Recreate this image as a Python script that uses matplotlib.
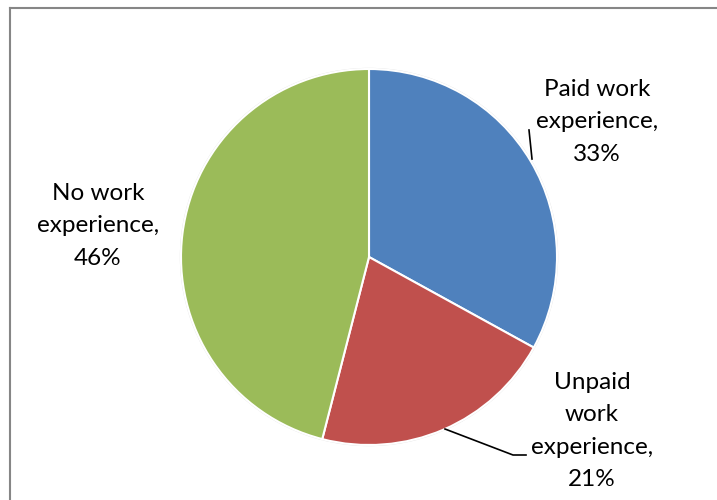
#------------------------------------------------------------------------------------------------------------------
#   Work experience pie chart
#------------------------------------------------------------------------------------------------------------------

import matplotlib
matplotlib.use('Agg')
import matplotlib.pyplot as plt
from matplotlib.patches import Circle
from matplotlib.lines import Line2D

#------------------------------------------------------------------------------------------------------------------
#   Data
#------------------------------------------------------------------------------------------------------------------
categories = ['Paid work\nexperience,', 'Unpaid\nwork\nexperience,', 'No work\nexperience,']
shares = [33, 21, 46]
colors = ['#4F81BD', '#C0504D', '#9BBB59']

#------------------------------------------------------------------------------------------------------------------
#   Figure (axes in pixel units, y up)
#------------------------------------------------------------------------------------------------------------------
W, H = 717, 500
fig = plt.figure(figsize=(W / 100, H / 100), dpi=100)
ax = fig.add_axes([0, 0, 1, 1])

cx, cy, r = 369, H - 257, 188

# faint shadow ring
ax.add_patch(Circle((cx, cy), r + 1.2, facecolor='#e2e2e2', edgecolor='none', zorder=0))

ax.pie(shares, colors=colors, startangle=90, counterclock=False, center=(cx, cy), radius=r,
       wedgeprops=dict(edgecolor='white', linewidth=1.5), frame=True)
ax.set_xlim(0, W)
ax.set_ylim(0, H)
ax.set_aspect('equal')
ax.axis('off')

#------------------------------------------------------------------------------------------------------------------
#   Labels
#------------------------------------------------------------------------------------------------------------------
font = dict(family=['Lato', 'DejaVu Sans'], fontsize=17.5, color='black', ha='center', va='center',
            linespacing=1.66)
label_pos = [(597, 122), (592, 431), (98, 226)]
for name, val, (x, y) in zip(categories, shares, label_pos):
    ax.text(x, H - y, '%s\n%d%%' % (name, val), **font)

# leader lines
ax.plot([529, 532], [H - 130, H - 159], color='black', lw=1.2)
ax.plot([445, 513, 526], [H - 429, H - 455, H - 455], color='black', lw=1.2)

#------------------------------------------------------------------------------------------------------------------
#   Chart border
#------------------------------------------------------------------------------------------------------------------
fig.add_artist(Line2D([9.5 / W, 1], [1 - 7.5 / H, 1 - 7.5 / H], color='#868686', lw=1.5))
fig.add_artist(Line2D([9.5 / W, 9.5 / W], [0, 1 - 7.5 / H], color='#868686', lw=1.5))

fig.savefig('out.png', dpi=100)
